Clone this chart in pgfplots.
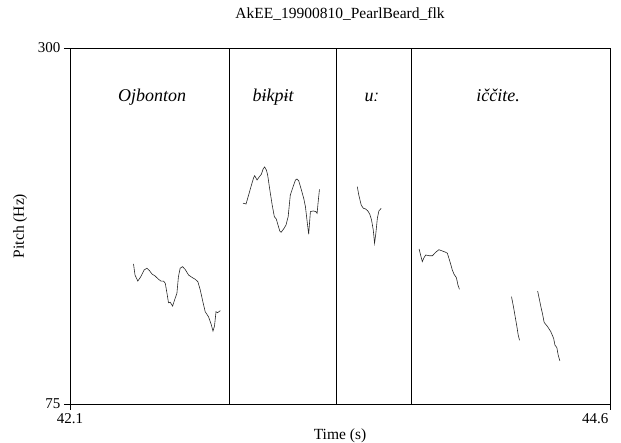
\documentclass[border=0pt]{standalone}
\usepackage{pgfplots}
\pgfplotsset{compat=1.18}
\usepackage{fontspec}
\setmainfont{Liberation Serif}
\begin{document}
\begin{tikzpicture}
\useasboundingbox (-70pt,-39pt) rectangle (551pt,404pt);
\begin{axis}[
 at={(0,0)}, anchor=south west,
 scale only axis, width=540pt, height=356pt,
 xmin=42.1, xmax=44.6, ymin=75, ymax=300,
 xtick={42.1}, xticklabels={42.1},
 extra x ticks={44.6}, extra x tick labels={44.6},
 extra x tick style={xticklabel style={anchor=north east, xshift=2pt}},
 ytick={75,300}, yticklabels={75,300},
 xtick pos=bottom, ytick pos=left,
 tick align=outside, major tick length=6pt,
 axis line style={line width=0.8pt},
 tick style={line width=0.8pt, black},
 ticklabel style={font=\fontsize{15}{17}\selectfont},
 /pgf/number format/assume math mode=true,
 title={AkEE\_19900810\_PearlBeard\_flk},
 title style={at={(axis description cs:0.5,1.0646)}, anchor=base, font=\fontsize{15.5}{18}\selectfont},
 xlabel={Time (s)},
 xlabel style={at={(axis description cs:0.5,-0.1011)}, anchor=base, font=\fontsize{15.5}{18}\selectfont},
 ylabel={Pitch (Hz)},
 ylabel style={at={(axis description cs:-0.0852,0.5)}, anchor=base, font=\fontsize{15.5}{18}\selectfont},
 clip=false,
]
% interval boundaries
\addplot[black, line width=0.8pt] coordinates {(42.837,75) (42.837,300)};
\addplot[black, line width=0.8pt] coordinates {(43.334,75) (43.334,300)};
\addplot[black, line width=0.8pt] coordinates {(43.682,75) (43.682,300)};
% pitch contours
\addplot[black!85, line width=0.6pt] coordinates {
(42.394,163.5) (42.401,156.5) (42.414,152.7) (42.428,155.5) (42.443,159.7) (42.456,160.8)
(42.468,159.3) (42.479,157.2) (42.494,155.9) (42.510,153.8) (42.521,152.7) (42.533,152.7)
(42.541,151.3) (42.549,145.0) (42.556,139.0) (42.564,139.3) (42.575,136.9) (42.584,140.7)
(42.595,145.0) (42.602,155.5) (42.610,160.8) (42.621,161.8) (42.633,160.1) (42.649,156.5)
(42.664,155.1) (42.680,153.8) (42.692,152.3) (42.703,147.1) (42.715,139.7) (42.726,133.3)
(42.741,130.2) (42.753,125.6) (42.762,121.1) (42.769,124.3) (42.776,133.3) (42.783,132.7)
(42.796,134.0)};
\addplot[black!85, line width=0.6pt] coordinates {
(42.901,201.9) (42.915,201.4) (42.927,207.1) (42.938,212.4) (42.950,218.0) (42.955,219.3)
(42.966,216.6) (42.977,218.7) (42.986,220.2) (42.994,223.5) (43.001,224.8) (43.009,222.9)
(43.015,219.8) (43.024,211.3) (43.036,200.8) (43.046,193.4) (43.055,191.9) (43.063,188.1)
(43.071,184.4) (43.077,183.5) (43.089,185.6) (43.100,188.1) (43.110,193.4) (43.120,207.1)
(43.133,212.4) (43.144,216.6) (43.151,217.2) (43.159,216.0) (43.170,210.9) (43.182,205.0)
(43.190,199.7) (43.198,190.2) (43.205,182.3) (43.213,196.6) (43.226,197.0) (43.238,196.6)
(43.244,195.5) (43.249,202.9) (43.255,210.7)};
\addplot[black!85, line width=0.6pt] coordinates {
(43.430,212.4) (43.437,207.1) (43.448,200.8) (43.458,198.7) (43.468,198.3) (43.479,197.0)
(43.488,194.9) (43.496,191.3) (43.504,185.0) (43.510,176.6) (43.516,182.9) (43.523,192.4)
(43.530,197.0) (43.541,198.7)};
\addplot[black!85, line width=0.6pt] coordinates {
(43.716,173.0) (43.723,169.2) (43.731,165.0) (43.739,167.5) (43.747,169.2) (43.762,168.7)
(43.778,168.7) (43.793,170.9) (43.808,172.5) (43.824,171.7) (43.839,170.9) (43.847,170.3)
(43.859,165.0) (43.870,159.7) (43.878,157.0) (43.889,154.8) (43.896,150.2) (43.903,147.5)};
\addplot[black!85, line width=0.6pt] coordinates {
(44.144,142.8) (44.153,136.5) (44.161,130.2) (44.169,123.9) (44.175,118.6) (44.181,115.3)};
\addplot[black!85, line width=0.6pt] coordinates {
(44.265,146.4) (44.272,141.8) (44.280,136.5) (44.288,131.7) (44.295,126.6) (44.311,123.9)
(44.326,120.7) (44.339,116.5) (44.345,112.3) (44.354,110.6) (44.360,106.0) (44.368,102.2)};
% word labels
\node[anchor=base, font=\fontsize{18}{20}\selectfont\itshape] at (axis cs:42.480,266) {Ojbonton};
\node[anchor=base, font=\fontsize{18}{20}\selectfont\itshape] at (axis cs:43.040,266) {bɨkpɨt};
\node[anchor=base, font=\fontsize{18}{20}\selectfont\itshape] at (axis cs:43.496,266) {uː};
\node[anchor=base, font=\fontsize{18}{20}\selectfont\itshape] at (axis cs:44.082,266) {iččite.};
\end{axis}
\end{tikzpicture}
\end{document}
